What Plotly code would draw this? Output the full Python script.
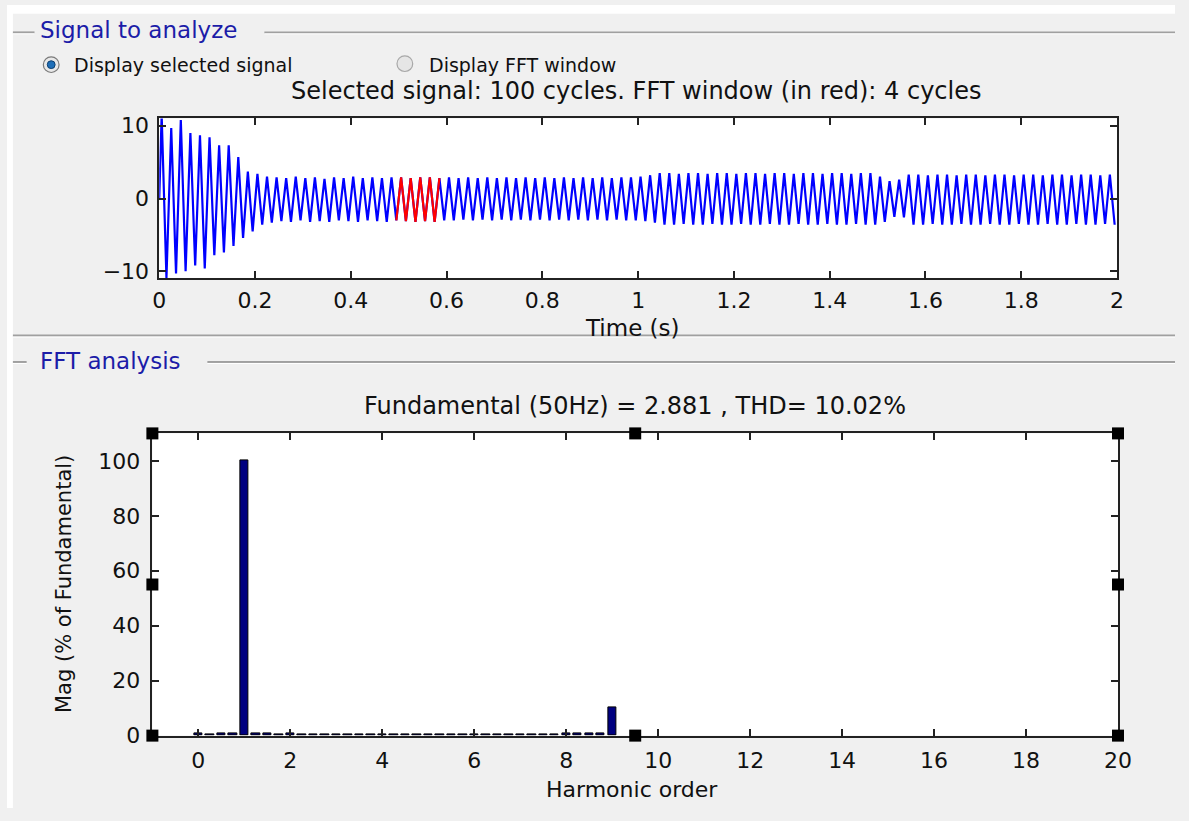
import numpy as np
import plotly.graph_objects as go

# ---------------- data ----------------
period_s = 0.02                      # 50 Hz fundamental
fft_window_s = [0.50, 0.58]          # 4 cycles shown in red

# positive peak of each of the 100 cycles
cycle_peak = [
    11.5, 9.7, 10.8, 9.0, 8.7, 8.4, 7.3, 7.3, 5.7, 3.7,
    3.4, 3.0, 2.9, 2.8, 3.0, 2.8, 2.9, 2.7, 2.9, 2.8,
    3.0, 2.8, 2.9, 2.8, 2.9, 2.9, 2.8, 2.9, 2.9, 2.8,
    2.9, 2.8, 2.9, 2.8, 2.9, 2.8, 2.9, 2.8, 2.9, 2.8,
    2.9, 2.8, 2.9, 2.8, 2.9, 2.8, 2.9, 2.8, 2.9, 2.9,
    3.0, 3.2, 3.5, 3.5, 3.4, 3.5, 3.5, 3.4, 3.5, 3.5,
    3.4, 3.5, 3.5, 3.4, 3.5, 3.5, 3.4, 3.5, 3.5, 3.4,
    3.5, 3.5, 3.4, 3.5, 3.5, 3.0, 2.4, 2.6, 3.3, 3.3,
    3.2, 3.3, 3.3, 3.2, 3.3, 3.3, 3.2, 3.3, 3.3, 3.2,
    3.3, 3.3, 3.2, 3.3, 3.3, 3.2, 3.3, 3.3, 3.2, 3.3,
]
# negative peak of each of the 100 cycles
cycle_trough = [
    -10.9, -10.3, -10.0, -9.2, -9.6, -7.8, -7.4, -6.5, -5.4, -4.5,
    -3.6, -3.3, -3.1, -3.2, -3.0, -3.2, -3.1, -3.2, -3.0, -3.1,
    -3.2, -3.0, -3.1, -3.2, -3.0, -3.1, -3.2, -3.1, -3.2, -3.0,
    -3.0, -2.9, -3.0, -2.9, -3.0, -2.9, -3.0, -2.9, -3.0, -2.9,
    -3.0, -2.9, -3.0, -2.9, -3.0, -2.9, -3.0, -2.9, -3.0, -3.0,
    -3.1, -3.3, -3.6, -3.6, -3.5, -3.6, -3.6, -3.5, -3.6, -3.6,
    -3.5, -3.6, -3.6, -3.5, -3.6, -3.6, -3.5, -3.6, -3.6, -3.5,
    -3.6, -3.6, -3.5, -3.6, -3.6, -3.2, -2.5, -2.6, -3.6, -3.6,
    -3.5, -3.6, -3.6, -3.5, -3.6, -3.6, -3.5, -3.6, -3.6, -3.5,
    -3.6, -3.6, -3.5, -3.6, -3.6, -3.5, -3.6, -3.6, -3.5, -3.6,
]

harmonic_order = [
    0, 0.25, 0.5, 0.75, 1, 1.25, 1.5, 1.75, 2, 2.25, 2.5, 2.75,
    3, 3.25, 3.5, 3.75, 4, 4.25, 4.5, 4.75, 5, 5.25, 5.5, 5.75,
    6, 6.25, 6.5, 6.75, 7, 7.25, 7.5, 7.75, 8, 8.25, 8.5, 8.75, 9,
]
magnitude_pct = [
    0.8, 0.6, 0.7, 0.9, 100.0, 0.9, 0.7, 0.6, 0.7, 0.6, 0.6, 0.5,
    0.6, 0.5, 0.6, 0.5, 0.6, 0.5, 0.5, 0.6, 0.5, 0.5, 0.6, 0.5,
    0.5, 0.6, 0.5, 0.5, 0.6, 0.5, 0.6, 0.6, 0.7, 0.7, 0.8, 0.9, 10.2,
]

top_title = "Selected signal: 100 cycles. FFT window (in red): 4 cycles"
fft_title = "Fundamental (50Hz) = 2.881 , THD= 10.02%"

# ---------------- build signal samples (peaks / troughs per cycle) -------
t = [0.0]
v = [0.0]
for k, (pk, tr) in enumerate(zip(cycle_peak, cycle_trough)):
    t += [k * period_s + period_s / 4, k * period_s + 3 * period_s / 4]
    v += [pk, tr]
t = np.array(t)
v = np.array(v)
mask = (t >= fft_window_s[0] - period_s / 4) & (t <= fft_window_s[1] + period_s / 4)

W, H = 1189, 821
BG = "#f0f0f0"
FONT = "DejaVu Sans"
PANEL_BLUE = "#1c1ca8"


def px(x):
    return x / W


def py(y):
    return 1 - y / H


fig = go.Figure()
fig.add_trace(go.Scatter(x=t, y=v, mode="lines", line=dict(color="#0000ff", width=2.2),
                         xaxis="x", yaxis="y", showlegend=False, hoverinfo="skip"))
fig.add_trace(go.Scatter(x=t[mask], y=v[mask], mode="lines", line=dict(color="#ff0000", width=2.2),
                         xaxis="x", yaxis="y", showlegend=False, hoverinfo="skip"))
fig.add_trace(go.Bar(x=harmonic_order, y=magnitude_pct, width=0.18,
                     marker=dict(color="#000080", line=dict(color="black", width=1)),
                     xaxis="x2", yaxis="y2", showlegend=False, hoverinfo="skip"))

axis_common = dict(showgrid=False, zeroline=False, showline=True, mirror="ticks",
                   linecolor="#222222", linewidth=1.5, ticks="inside", ticklen=7,
                   tickwidth=1.5, tickcolor="#222222",
                   tickfont=dict(family=FONT, size=22, color="#111111"))

fig.update_layout(
    width=W, height=H, autosize=False,
    margin=dict(l=0, r=0, t=0, b=0),
    paper_bgcolor=BG, plot_bgcolor="white",
    font=dict(family=FONT, color="#111111"),
    xaxis=dict(domain=[px(155), px(1130)], range=[0, 2], anchor="y",
               tickvals=[0, 0.2, 0.4, 0.6, 0.8, 1, 1.2, 1.4, 1.6, 1.8, 2],
               ticktext=["0", "0.2", "0.4", "0.6", "0.8", "1", "1.2", "1.4", "1.6", "1.8", "2"],
               ticklabelstandoff=2, **axis_common),
    yaxis=dict(domain=[py(279), py(116)], range=[-10.9, 11.0], anchor="x",
               tickvals=[-10, 0, 10], ticklabelstandoff=4, **axis_common),
    xaxis2=dict(domain=[px(148), px(1131)], range=[-1, 20], anchor="y2",
                tickvals=list(range(0, 21, 2)), ticklabelstandoff=4, **axis_common),
    yaxis2=dict(domain=[py(747), py(438)], range=[0, 110], anchor="x2",
                tickvals=[0, 20, 40, 60, 80, 100], ticklabelstandoff=6, **axis_common),
    bargap=0,
)

shapes = []
# white borders of the screenshot
shapes.append(dict(type="rect", xref="paper", yref="paper", x0=0, x1=1, y0=py(9), y1=1,
                   fillcolor="white", line=dict(width=0), layer="below"))
shapes.append(dict(type="rect", xref="paper", yref="paper", x0=0, x1=px(6), y0=0, y1=1,
                   fillcolor="white", line=dict(width=0), layer="below"))


def hline(x0, x1, y):
    shapes.append(dict(type="line", xref="paper", yref="paper", x0=px(x0), x1=px(x1),
                       y0=py(y), y1=py(y), line=dict(color="#a0a0a0", width=2)))
    shapes.append(dict(type="line", xref="paper", yref="paper", x0=px(x0), x1=px(x1),
                       y0=py(y + 1.5), y1=py(y + 1.5), line=dict(color="white", width=1)))


hline(6, 28, 28)
hline(262, W, 28)
hline(6, W, 338)
hline(6, 20, 365)
hline(204, W, 365)

# radio buttons
shapes.append(dict(type="circle", xref="paper", yref="paper",
                   x0=px(37), x1=px(53), y0=py(69), y1=py(53),
                   fillcolor="#e8e8e8", line=dict(color="#7a7a7a", width=1.2)))
shapes.append(dict(type="circle", xref="paper", yref="paper",
                   x0=px(41), x1=px(49), y0=py(65), y1=py(57),
                   fillcolor="#1f6fb8", line=dict(color="#0d3f70", width=1)))
shapes.append(dict(type="circle", xref="paper", yref="paper",
                   x0=px(397), x1=px(413), y0=py(68), y1=py(52),
                   fillcolor="#e6e6e6", line=dict(color="#a8a8a8", width=1.2)))

# selection handles on the FFT axes
for xd, yd in [(0, 0), (0, 0.5), (0, 1), (0.5, 1), (0.5, 0), (1, 0), (1, 0.5), (1, 1)]:
    shapes.append(dict(type="rect", xref="x2 domain", yref="y2 domain",
                       xsizemode="pixel", ysizemode="pixel", xanchor=xd, yanchor=yd,
                       x0=-6, x1=6, y0=-6, y1=6, fillcolor="black",
                       line=dict(width=0), layer="above"))

fig.update_layout(shapes=shapes)


def ann(text, x, y, size, xanchor="center", color="#111111", angle=0):
    fig.add_annotation(text=text, xref="paper", yref="paper", x=px(x), y=py(y),
                       xanchor=xanchor, yanchor="middle", showarrow=False,
                       textangle=angle, font=dict(family=FONT, size=size, color=color))


ann("Signal to analyze", 32, 26, 23, xanchor="left", color=PANEL_BLUE)
ann("Display selected signal", 66, 61, 19, xanchor="left")
ann("Display FFT window", 428, 61, 19, xanchor="left")
ann(top_title, 640, 88, 24)
ann("Time (s)", 637, 330, 23)
ann("FFT analysis", 32, 364, 23, xanchor="left", color=PANEL_BLUE)
ann(fft_title, 639, 410, 24)
ann("Mag (% of Fundamental)", 58, 592, 21, angle=-90)
ann("Harmonic order", 636, 802, 22)

fig.write_html(
    "out.html",
    post_script="document.body.style.margin='0';document.body.style.overflow='hidden';",
)
